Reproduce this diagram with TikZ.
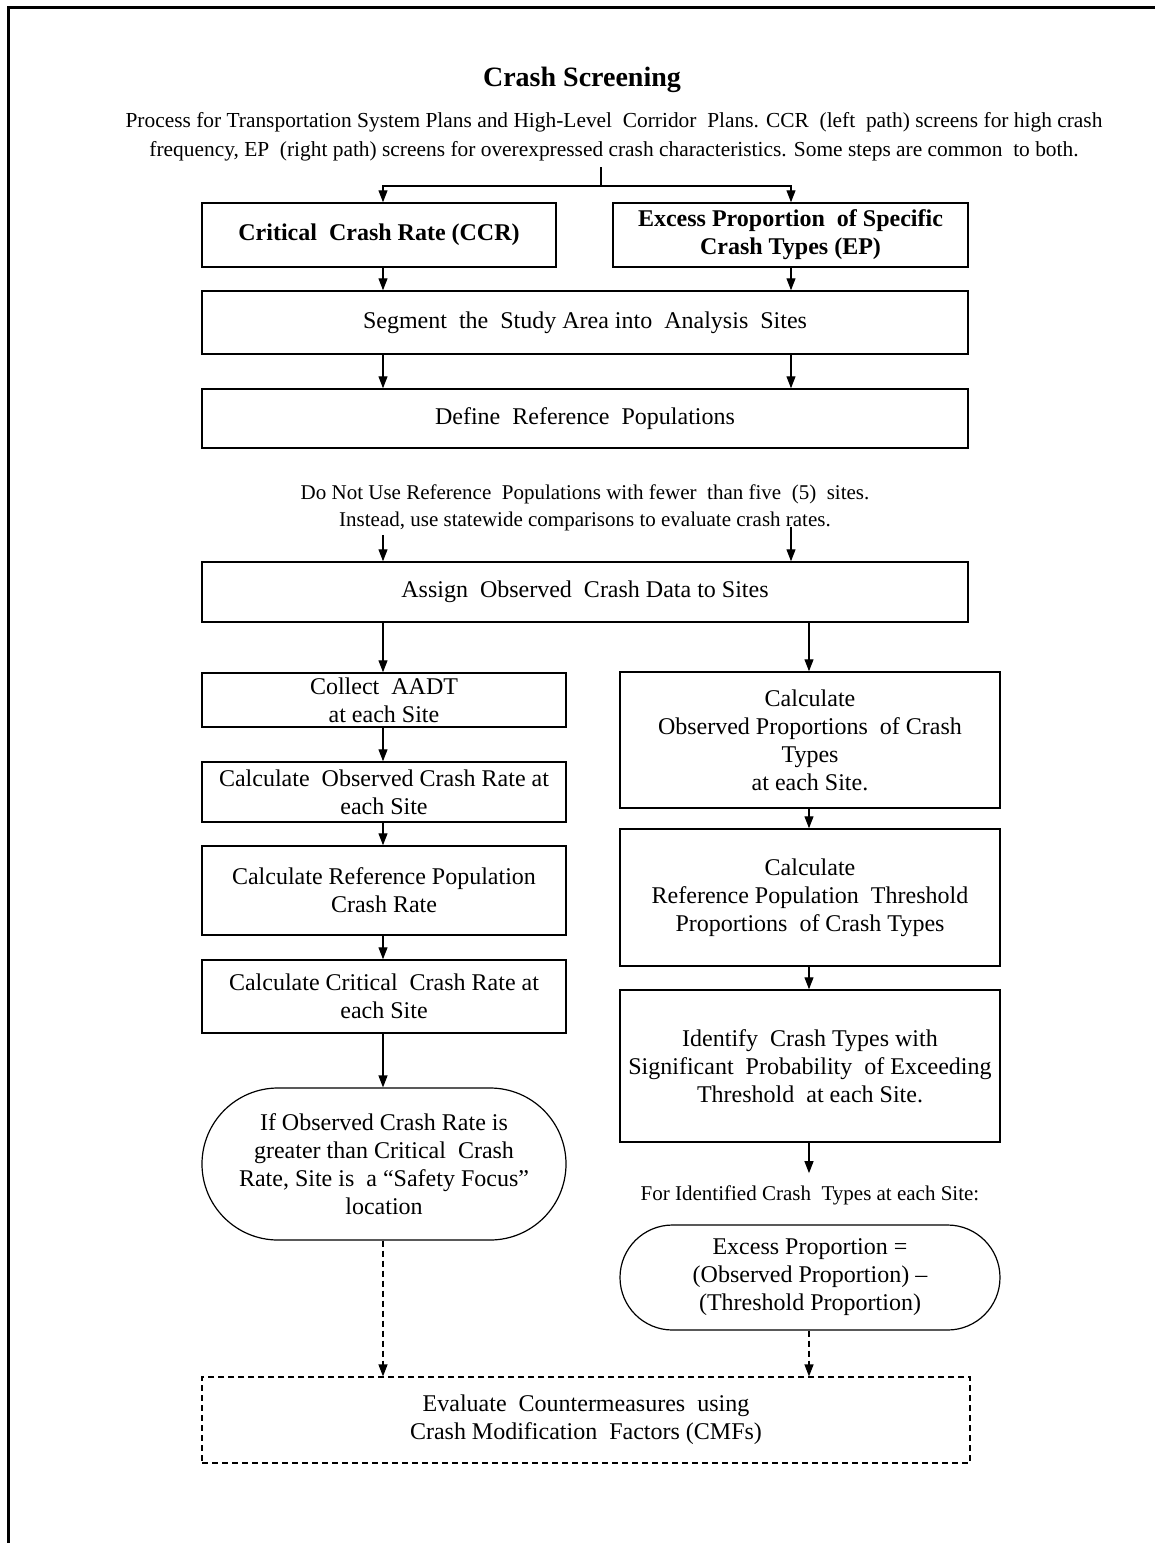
\documentclass[tikz,border=0pt]{standalone}
\usepackage{fontspec}
\setmainfont{Liberation Serif}
\usetikzlibrary{arrows.meta,shapes.misc,calc}
\begin{document}
\begin{tikzpicture}[x=1pt,y=-1pt,
  box/.style={draw, line width=1.5pt, rectangle, align=center, inner sep=0pt,
    font=\fontsize{24}{28}\selectfont},
  term/.style={draw, line width=1.2pt, rounded rectangle, align=center, inner sep=0pt,
    font=\fontsize{24}{28}\selectfont},
  txt/.style={align=center, inner sep=0pt, font=\fontsize{21}{27}\selectfont},
  arr/.style={line width=1.2pt, -{Triangle[width=9pt,length=12pt]}},
  darr/.style={arr, dash pattern=on 6pt off 4pt},
]
\useasboundingbox (0,0) rectangle (1155,1543);
% outer frame
\draw[line width=3pt] (8,1543) -- (8,7) -- (1155,7);

% title and subtitle
\node[font=\fontsize{28}{32}\selectfont\bfseries, inner sep=0pt] (title) at (582,80) {Crash Screening};
\node[txt, font=\fontsize{21.4}{29}\selectfont] (sub) at (614,137)
  {Process for Transportation System Plans and High-Level\ \ Corridor\ \ Plans. CCR\ \ (left\ \ path) screens for high crash\\
   frequency, EP\ \ (right path) screens for overexpressed crash characteristics. Some steps are common\ \ to both.};

% coordinates for columns
\coordinate (xL) at (383,0);
\coordinate (xR) at (791,0);
\coordinate (xR2) at (809,0);
\coordinate (stem) at (601,167);
\coordinate (split) at (601,186);

% top boxes
\node[box, font=\fontsize{24}{28}\selectfont\bfseries, minimum width=354pt, minimum height=64pt] (ccr) at (379,235)
  {Critical\ \ Crash Rate (CCR)};
\node[box, font=\fontsize{24}{28}\selectfont\bfseries, minimum width=355pt, minimum height=64pt] (ep) at (790.5,235)
  {Excess Proportion\ \ of Specific\\Crash Types (EP)};

\node[box, minimum width=766pt, minimum height=63pt] (seg) at (585,322.5)
  {Segment\ \ the\ \ Study Area into\ \ Analysis\ \ Sites};
\node[box, minimum width=766pt, minimum height=59pt] (def) at (585,418.5)
  {Define\ \ Reference\ \ Populations};

\node[txt] (note) at (585,507.5)
  {Do Not Use Reference\ \ Populations with fewer\ \ than five\ \ (5)\ \ sites.\\
   Instead, use statewide comparisons to evaluate crash rates.};

\node[box, minimum width=766pt, minimum height=60pt] (assign) at (585,592)
  {Assign\ \ Observed\ \ Crash Data to Sites};

% left column
\node[box, minimum width=364pt, minimum height=54pt] (aadt) at (384,700)
  {Collect\ \ AADT\\at each Site};
\node[box, minimum width=364pt, minimum height=60pt] (obs) at (384,792)
  {Calculate\ \ Observed Crash Rate at\\each Site};
\node[box, minimum width=364pt, minimum height=89pt] (refr) at (384,890.5)
  {Calculate Reference Population\\Crash Rate};
\node[box, minimum width=364pt, minimum height=73pt] (crit) at (384,996.5)
  {Calculate Critical\ \ Crash Rate at\\each Site};
\node[term, minimum width=364pt, minimum height=152pt] (terml) at (384,1164)
  {If Observed Crash Rate is\\greater than Critical\ \ Crash\\Rate, Site is\ \ a “Safety Focus”\\location};

% right column
\node[box, minimum width=380pt, minimum height=136pt] (r1) at (810,740)
  {Calculate\\Observed Proportions\ \ of Crash\\Types\\at each Site.};
\node[box, minimum width=380pt, minimum height=137pt] (r2) at (810,897.5)
  {Calculate\\Reference Population\ \ Threshold\\Proportions\ \ of Crash Types};
\node[box, minimum width=380pt, minimum height=152pt] (r3) at (810,1066)
  {Identify\ \ Crash Types with\\Significant\ \ Probability\ \ of Exceeding\\Threshold\ \ at each Site.};
\node[txt] (fortxt) at (810,1195) {For Identified Crash\ \ Types at each Site:};
\node[term, minimum width=380pt, minimum height=105pt] (termr) at (810,1277.5)
  {Excess Proportion =\\(Observed Proportion) –\\(Threshold Proportion)};

% bottom dashed box
\node[box, dash pattern=on 6pt off 4pt, line width=1.2pt, minimum width=768pt, minimum height=86pt] (eval) at (586,1420)
  {Evaluate\ \ Countermeasures\ \ using\\Crash Modification\ \ Factors (CMFs)};

% connectors
\draw[line width=1.2pt] (stem) -- (split);
\draw[arr] (split) -| (ccr.north -| xL);
\draw[arr] (split) -| (ep.north -| xR);
\draw[arr] (ccr.south -| xL) -- (seg.north -| xL);
\draw[arr] (ep.south -| xR) -- (seg.north -| xR);
\draw[arr] (seg.south -| xL) -- (def.north -| xL);
\draw[arr] (seg.south -| xR) -- (def.north -| xR);
\draw[arr] ($(note.south -| xL)+(0,4)$) -- (assign.north -| xL);
\draw[arr] ($(note.south -| xR)+(0,-4)$) -- (assign.north -| xR);
\draw[arr] (assign.south -| xL) -- (aadt.north -| xL);
\draw[arr] (assign.south -| xR2) -- (r1.north -| xR2);
\draw[arr] (aadt.south -| xL) -- (obs.north -| xL);
\draw[arr] (obs.south -| xL) -- (refr.north -| xL);
\draw[arr] (refr.south -| xL) -- (crit.north -| xL);
\draw[arr] (crit.south -| xL) -- (terml.north -| xL);
\draw[arr] (r1.south -| xR2) -- (r2.north -| xR2);
\draw[arr] (r2.south -| xR2) -- (r3.north -| xR2);
\draw[arr] (r3.south -| xR2) -- ($(fortxt.north -| xR2)+(0,-12)$);
\draw[darr] (terml.south -| xL) -- (eval.north -| xL);
\draw[darr] (termr.south -| xR2) -- (eval.north -| xR2);
\end{tikzpicture}
\end{document}
